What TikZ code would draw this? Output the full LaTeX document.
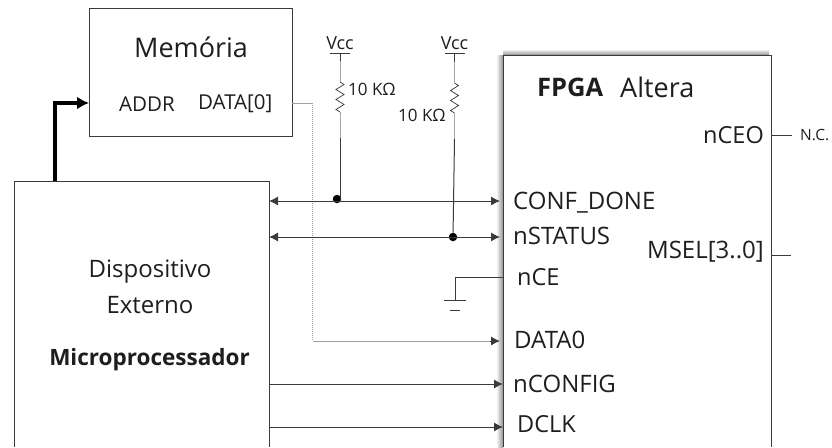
\documentclass[tikz,border=0pt]{standalone}
\usepackage{fontspec}
\setmainfont{Open Sans}
\usetikzlibrary{arrows.meta,decorations.pathmorphing}
\definecolor{ln}{HTML}{3A3A3A}
\definecolor{tx}{HTML}{1E1E1E}
\tikzset{
  x=1pt,y=-1pt,
  blockbox/.style={draw=ln,line width=0.9pt,fill=white,inner sep=0},
  lab/.style={text=tx,inner sep=0,anchor=west,font=\fontsize{#1}{#1}\selectfont},
  lab/.default=17,
  wire/.style={draw=ln,line width=1pt},
  sig/.style={wire,-{Latex[length=9pt,width=9pt]}},
  bisig/.style={wire,{Latex[length=9pt,width=9pt]}-{Latex[length=9pt,width=9pt]}},
  res/.style={draw=gray!70,line width=1pt},
  zig/.style={draw=ln,line width=0.7pt,decorate,decoration={zigzag,segment length=10pt,amplitude=4pt}},
  dotn/.style={circle,fill=black,inner sep=0,minimum size=8.5pt},
}
\begin{document}
\begin{tikzpicture}
\useasboundingbox (0,0) rectangle (832,447);
% FPGA shadow and boxes
\shade[left color=white,right color=gray!85] (496,55) rectangle (503,447);
\shade[top color=white,bottom color=gray!85] (503,49) rectangle (769,55);
\fill[white] (503,55) rectangle (771,447);
\draw[ln,line width=0.9pt] (503,447) -- (503,55) -- (771,55) -- (771,447);
\draw[ln,line width=0.9pt] (14,447) -- (14,181) -- (269,181) -- (269,447);
\node[blockbox,minimum width=203pt,minimum height=128pt] (mem) at (190.5,72) {};
% named points
\coordinate (extA) at (55,181);
\coordinate (memA) at (89,103);
\coordinate (memD) at (292,103);
\coordinate (e1) at (269,201);
\coordinate (e2) at (269,237);
\coordinate (e4) at (269,384);
\coordinate (e5) at (269,427);
\coordinate (f1) at (500,201);
\coordinate (f2) at (500,237);
\coordinate (f3) at (503,277);
\coordinate (f4) at (500,341);
\coordinate (f5) at (503,384);
\coordinate (f6) at (503,427);
\coordinate (nceo) at (771,135);
\coordinate (nceoE) at (792,135);
\coordinate (msel) at (771,255);
\coordinate (mselE) at (791,255);
\coordinate (gnd) at (455,300);
\node[dotn] (d1) at (337,199) {};
\node[dotn] (d2) at (453,237) {};
% thick bus
\draw[line width=4.5pt,line join=miter,-{Latex[length=12pt,width=13pt]}] (extA) |- (memA);
% data line
\draw[draw=gray!75,line width=0.8pt] (memD) -- (312.5,103);
\draw[draw=gray!75,line width=1pt,densely dotted] (312.5,103) -- (312.5,341);
\draw[draw=gray!75,line width=0.9pt] (312.5,341) -- (490,341);
\draw[draw=ln,line width=0.9pt,-{Latex[length=9pt,width=9pt]}] (490,341) -- (f4);
% signals
\draw[bisig] (e1) -- (f1);
\draw[bisig] (e2) -- (f2);
\draw[sig] (e4) -- (f5);
\draw[sig] (e5) -- (f6);
% pull-ups
\coordinate (v1) at (340,53);
\coordinate (v2) at (454.5,53);
\node[inner sep=0,text=tx,font=\fontsize{18}{18}\selectfont] (vcc1) at (340,43) {Vcc};
\node[inner sep=0,text=tx,font=\fontsize{18}{18}\selectfont] (vcc2) at (454.5,43) {Vcc};
\draw[ln,line width=0.9pt] (330,53) -- (350,53);
\draw[ln,line width=0.9pt] (445,53) -- (465,53);
\draw[ln,line width=1pt] (v1) -- (340,61);
\draw[ln,line width=1pt] (v2) -- (454.5,62);
\draw[res] (340,61) -- (340,82);
\draw[zig] (340,82) -- (340,112);
\draw[res] (340,112) -- (340,138);
\draw[ln,line width=1pt] (340,138) -- (340,199) -- (d1);
\draw[res] (454.5,62) -- (454.5,83);
\draw[zig] (454.5,83) -- (454.5,113);
\draw[res] (454.5,113) -- (454.5,139);
\draw[ln,line width=1pt] (454.5,139) -- (d2);
% ground
\draw[ln,line width=0.9pt] (f3) -- (455,277) -- (gnd);
\draw[ln,line width=0.9pt] (444,300) -- (466,300);
\draw[ln,line width=0.9pt] (450,310) -- (460,310);
% right stubs
\draw[ln,line width=0.9pt] (nceo) -- (nceoE);
\draw[ln,line width=0.9pt] (msel) -- (mselE);
% labels
\node[lab=27] (tmem) at (134,47) {Memória};
\node[lab=20.5] (taddr) at (119,104) {ADDR};
\node[lab=20.5] (tdata) at (198,104) {DATA[0]};
\node[lab=17] (r1) at (348,89) {10 KΩ};
\node[lab=17] (r2) at (398,115) {10 KΩ};
\node[lab=25.5] (tf) at (537,87) {\textbf{FPGA}};
\node[lab=27] (tf2) at (620,87) {Altera};
\node[lab=23.5,anchor=east] (tceo) at (764,135) {nCEO};
\node[lab=15.5] (tnc) at (800,135) {N.C.};
\node[lab=24] (t1) at (513,203) {CONF\_DONE};
\node[lab=24] (t2) at (513,236) {nSTATUS};
\node[lab=24,anchor=east] (t7) at (764,252) {MSEL[3..0]};
\node[lab=23.5] (t3) at (517,277) {nCE};
\node[lab=24] (t4) at (514,340) {DATA0};
\node[lab=24] (t5) at (513,384) {nCONFIG};
\node[lab=23.5] (t6) at (517,424) {DCLK};
\node[lab=24,anchor=center] (te1) at (150,272) {Dispositivo};
\node[lab=24,anchor=center] (te2) at (150,305) {Externo};
\node[lab=22.5,anchor=center] (te3) at (149.5,360) {\textbf{Microprocessador}};
\end{tikzpicture}
\end{document}
